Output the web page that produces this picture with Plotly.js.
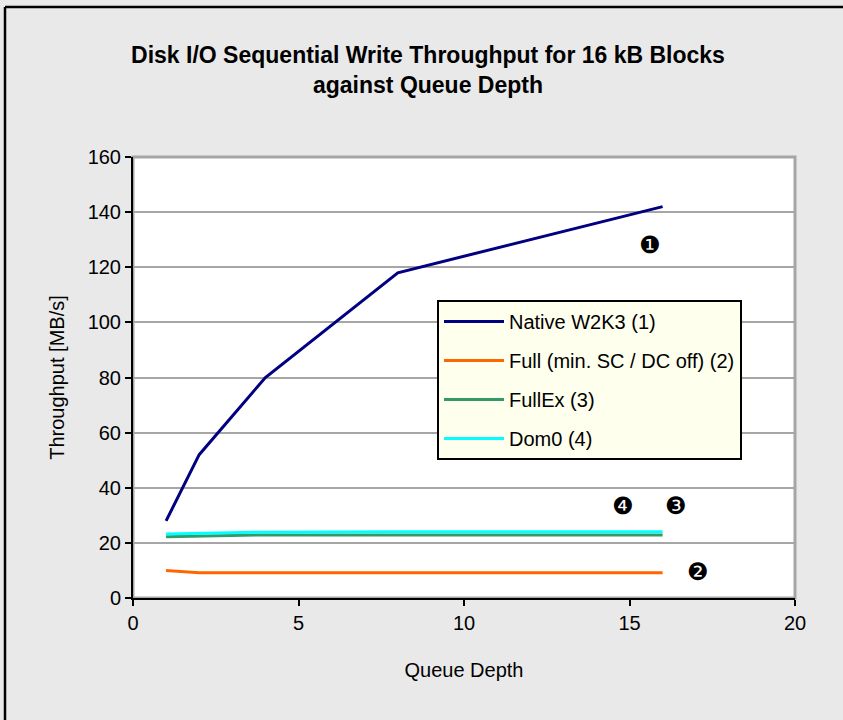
<!DOCTYPE html>
<html>
<head>
<meta charset="utf-8">
<script src="https://cdn.plot.ly/plotly-3.0.1.min.js"></script>
<style>
  html, body { margin: 0; padding: 0; background: #e9e9e9; overflow: hidden; }
  #chart { width: 843px; height: 720px; }
</style>
</head>
<body>
<div id="chart"></div>
<script>
// Queue depths measured (x axis)
const queueDepth = [1, 2, 4, 8, 16];

// Sequential write throughput in MB/s for 16 kB blocks
const nativeW2K3 = [28, 52, 80, 118, 142];
const fullMinSC = [10, 9.2, 9.2, 9.2, 9.2];
const fullEx = [22.2, 22.5, 22.9, 22.9, 22.9];
const dom0 = [23.2, 23.4, 23.9, 24, 24];

const seriesNames = ['Native W2K3 (1)', 'Full (min. SC / DC off) (2)', 'FullEx (3)', 'Dom0 (4)'];
const seriesColors = ['#000080', '#ff6600', '#339966', '#00ffff'];
const seriesValues = [nativeW2K3, fullMinSC, fullEx, dom0];

// Numbered markers placed beside each curve
const markerLabels = ['\u2776', '\u2777', '\u2778', '\u2779'];

const xTicks = [0, 5, 10, 15, 20];
const yTicks = [0, 20, 40, 60, 80, 100, 120, 140, 160];

const traces = seriesValues.map((vals, i) => ({
  type: 'scatter',
  mode: 'lines',
  x: queueDepth,
  y: vals,
  name: seriesNames[i],
  legendgroup: 'g' + i,
  line: { color: seriesColors[i], width: 3 },
  hoverinfo: 'x+y+name'
}));

const markerPos = [[15.62, 128], [17.07, 9.4], [16.4, 33.4], [14.8, 33.4]];
const annotations = markerLabels.map((t, i) => ({
  x: markerPos[i][0], y: markerPos[i][1], xref: 'x', yref: 'y',
  text: t, showarrow: false,
  font: { family: 'DejaVu Sans', size: 24, color: '#000' }
}));

const font = 'Liberation Sans, Arial, sans-serif';

const layout = {
  width: 843, height: 720,
  paper_bgcolor: '#e9e9e9',
  plot_bgcolor: '#ffffff',
  margin: { l: 133, r: 48, t: 157, b: 122 },
  font: { family: font, size: 20, color: '#000' },
  title: {
    text: '<b>Disk I/O Sequential Write Throughput for 16 kB Blocks<br>against Queue Depth</b>',
    font: { family: font, size: 23, color: '#000' },
    x: 428 / 843, xref: 'container', xanchor: 'center',
    y: 1 - 63 / 720, yref: 'container', yanchor: 'middle'
  },
  xaxis: {
    range: [0, 20],
    tickvals: xTicks,
    ticks: 'outside', ticklen: 6, tickwidth: 2, tickcolor: '#000',
    showline: true, linecolor: '#000', linewidth: 2,
    showgrid: false, zeroline: false,
    tickfont: { size: 20 },
    title: { text: 'Queue Depth', font: { size: 20 }, standoff: 30 }
  },
  yaxis: {
    range: [0, 160],
    tickvals: yTicks,
    ticks: 'outside', ticklen: 6, tickwidth: 2, tickcolor: '#000',
    showline: true, linecolor: '#000', linewidth: 2,
    showgrid: true, gridcolor: '#a6a6a6', gridwidth: 2,
    zeroline: false,
    tickfont: { size: 20 },
    title: { text: 'Throughput [MB/s]', font: { size: 20 }, standoff: 18 }
  },
  legend: {
    x: (437 - 133) / 662, y: (598 - 300) / 441,
    xanchor: 'left', yanchor: 'top',
    bgcolor: '#ffffee', bordercolor: '#000', borderwidth: 2,
    font: { family: font, size: 20 },
    tracegroupgap: 10,
    itemwidth: 60
  },
  annotations: annotations,
  shapes: [
    // plot area frame
    { type: 'rect', xref: 'paper', yref: 'paper', x0: 0, x1: 1, y0: 0, y1: 1,
      line: { color: '#a6a6a6', width: 3 }, layer: 'below' },
    // outer frame, left edge
    { type: 'line', xref: 'paper', yref: 'paper',
      x0: -128 / 662, x1: -128 / 662, y0: -122 / 441, y1: 591 / 441,
      line: { color: '#000', width: 2.5 } },
    // outer frame, top edge
    { type: 'line', xref: 'paper', yref: 'paper',
      x0: -128 / 662, x1: 712 / 662, y0: 591 / 441, y1: 591 / 441,
      line: { color: '#000', width: 2.5 } }
  ],
  showlegend: true
};

Plotly.newPlot('chart', traces, layout, { displayModeBar: false, staticPlot: true });
</script>
</body>
</html>
